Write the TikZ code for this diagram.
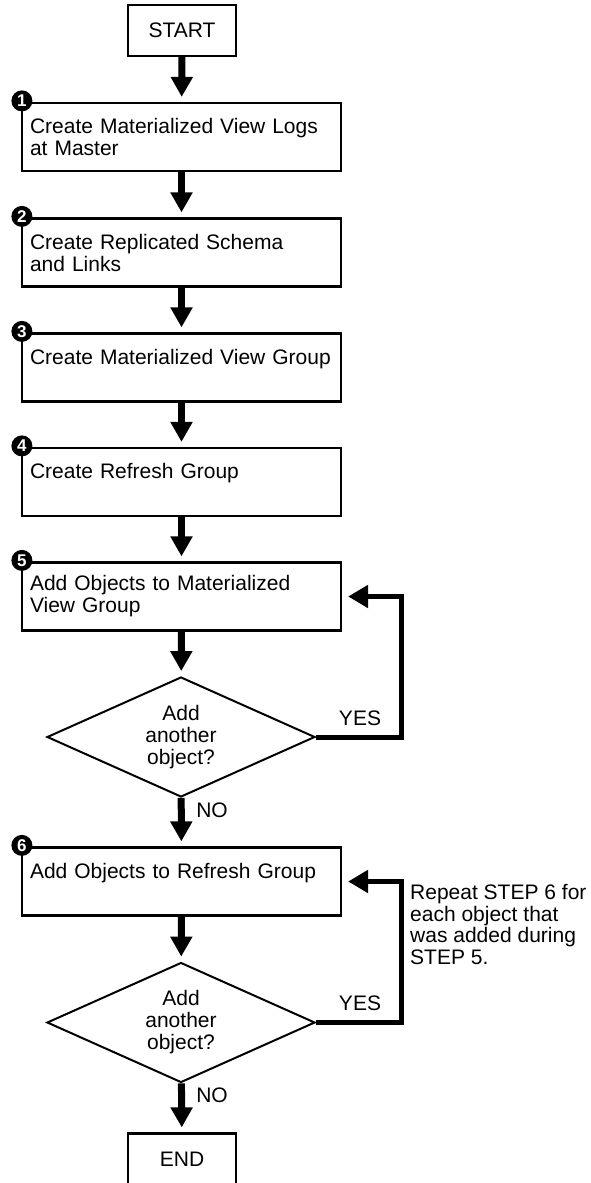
\documentclass[tikz,border=0pt]{standalone}
\usepackage{fontspec}
\setmainfont{Liberation Sans}
\usetikzlibrary{arrows.meta,shapes.geometric}

\begin{document}
\begin{tikzpicture}[x=1pt, y=-1pt,
	font=\fontsize{21}{22}\selectfont,
	stepbox/.style={draw, line width=2.2pt, text width=303pt, inner xsep=8pt, minimum height=68pt, align=left},
	endbox/.style={draw, line width=2.2pt, minimum width=108pt, minimum height=51pt},
	query/.style={draw, diamond, line width=2pt, aspect=2.23, minimum width=268pt, minimum height=120pt, inner sep=0pt, align=center},
	stepnum/.style={circle, fill=black, text=white, inner sep=0pt, minimum size=21pt, font=\fontsize{17}{17}\selectfont\bfseries},
	flow/.style={line width=7pt, -{Triangle[length=20pt,width=21pt]}, shorten >=5pt},
	back/.style={line width=5pt, -{Triangle[length=20pt,width=22pt]}, shorten >=6pt},
]
\useasboundingbox (0,0) rectangle (590,1183);

\node[endbox] (start) at (182,30.5) {START};
\node[stepbox] (b1) at (181.5,137) {Create Materialized View Logs\\at Master};
\node[stepbox] (b2) at (181.5,252.5) {Create Replicated Schema\\and Links};
\node[stepbox] (b3) at (181.5,367.5) {Create Materialized View Group\\\mbox{}};
\node[stepbox] (b4) at (181.5,482) {Create Refresh Group\\\mbox{}};
\node[stepbox] (b5) at (181.5,596.5) {Add Objects to Materialized\\View Group};
\node[query] (q1) at (181,737) {Add\\another\\object?};
\node[stepbox] (b6) at (181.5,881.5) {Add Objects to Refresh Group\\\mbox{}};
\node[query] (q2) at (181,1022.5) {Add\\another\\object?};
\node[endbox] (end) at (182,1159) {END};

\foreach \i in {1,...,6} {
	\node[stepnum] (n\i) at ([shift={(1,-1)}]b\i.north west) {\i};
}

\draw[flow] (start) -- (b1);
\draw[flow] (b1) -- (b2);
\draw[flow] (b2) -- (b3);
\draw[flow] (b3) -- (b4);
\draw[flow] (b4) -- (b5);
\draw[flow] (b5) -- (q1);
\draw[flow] (q1) -- (b6);
\draw[flow] (b6) -- (q2);
\draw[flow] (q2) -- (end);

\draw[back] (q1.east) -- ++(85,0) |- (b5.east);
\draw[back] (q2.east) -- ++(85,0) |- (b6.east);

\node (yes1) at (360,718) {YES};
\node (yes2) at (360,1003) {YES};
\node (no1) at (212,810) {NO};
\node (no2) at (212,1095) {NO};

\node[anchor=west, inner sep=0pt, align=left, font=\fontsize{21}{21.7}\selectfont] (note) at (410,924.5)
	{Repeat STEP 6 for\\each object that\\was added during\\STEP 5.};
\end{tikzpicture}
\end{document}
